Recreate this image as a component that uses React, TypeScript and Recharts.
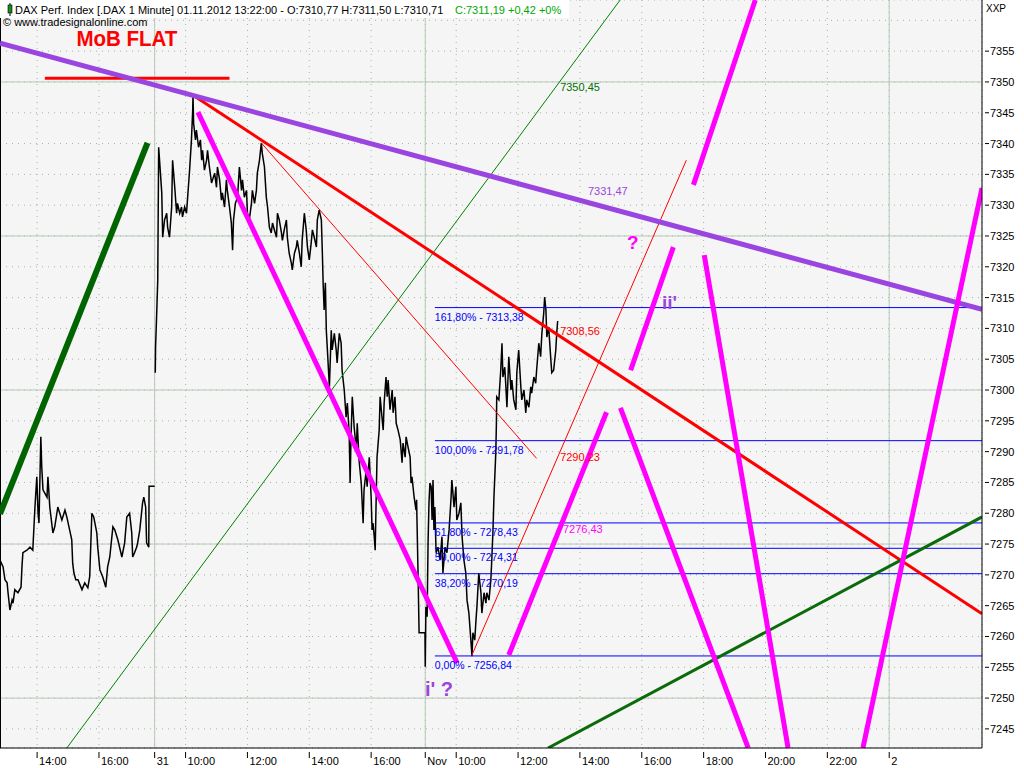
import React from 'react';
import { ComposedChart, Line, XAxis, YAxis, CartesianGrid, ReferenceLine, ReferenceDot } from 'recharts';

// time axis: hours on a compressed trading axis
const X_TICKS = [1.2, 3.2, 5.0, 6.0, 8.0, 10.0, 12.0, 13.75, 14.75, 16.75, 18.75, 20.75, 22.75, 24.75, 26.75, 28.75];
const X_LABELS = ['14:00', '16:00', '31', '10:00', '12:00', '14:00', '16:00', 'Nov', '10:00', '12:00', '14:00', '16:00', '18:00', '20:00', '22:00', '2'];
const DAY_BREAKS = [5.0, 13.75, 28.75];
const Y_TICKS = [7245, 7250, 7255, 7260, 7265, 7270, 7275, 7280, 7285, 7290, 7295, 7300, 7305, 7310, 7315, 7320, 7325, 7330, 7335, 7340, 7345, 7350, 7355];
const Y_SOLID = [7250, 7275, 7300, 7325, 7350];
const X_DOMAIN = [0, 31.75];
const Y_DOMAIN = [7241.9, 7363.3];

const PRICE_T = [
  0, 0.10, 0.16, 0.23, 0.26, 0.32, 0.39, 0.42, 0.48, 0.58, 0.68, 0.71, 0.74, 0.87, 0.97, 1.06, 1.13, 1.19, 1.23, 1.26,
  1.32, 1.35, 1.39, 1.52, 1.55, 1.61, 1.71, 1.77, 1.87, 2.0, 2.10, 2.16, 2.23, 2.32, 2.35, 2.39, 2.45, 2.52, 2.65, 2.74,
  2.84, 2.90, 2.97, 3.03, 3.13, 3.16, 3.23, 3.32, 3.42, 3.48, 3.55, 3.65, 3.71, 3.81, 3.94, 4.03, 4.10, 4.19, 4.26, 4.29,
  4.35, 4.42, 4.45, 4.52, 4.61, 4.65, 4.71, 4.74, 4.81, 4.82, 5.0, 5.01,
  5.02, 5.03, 5.06, 5.10, 5.13, 5.23, 5.26, 5.32, 5.39, 5.42, 5.48, 5.55, 5.58, 5.65, 5.71, 5.74, 5.81, 5.87, 5.90, 5.97,
  6.03, 6.06, 6.13, 6.19, 6.23, 6.24, 6.26, 6.32, 6.35, 6.42, 6.48, 6.52, 6.55, 6.61, 6.68, 6.71, 6.77, 6.84, 6.87, 6.94,
  7.00, 7.03, 7.10, 7.16, 7.19, 7.26, 7.32, 7.35, 7.42, 7.48, 7.52, 7.55, 7.61, 7.68, 7.74, 7.81, 7.84, 7.90, 7.97, 8.00,
  8.06, 8.13, 8.16, 8.23, 8.29, 8.32, 8.39, 8.45, 8.48, 8.55, 8.61, 8.65, 8.71, 8.77, 8.81, 8.87, 8.94, 8.97, 9.03, 9.10,
  9.13, 9.19, 9.26, 9.29, 9.35, 9.42, 9.45, 9.52, 9.58, 9.61, 9.68, 9.74, 9.77, 9.84, 9.90, 9.94, 10.00, 10.06, 10.10, 10.16,
  10.23, 10.26, 10.32, 10.39, 10.42, 10.45, 10.48, 10.52, 10.55, 10.58, 10.65, 10.71, 10.74, 10.81, 10.87, 10.90, 10.97, 11.03, 11.06, 11.13,
  11.19, 11.23, 11.29, 11.32, 11.35, 11.39, 11.45, 11.52, 11.55, 11.61, 11.68, 11.71, 11.74, 11.77, 11.84, 11.87, 11.94, 12.00, 12.03, 12.06,
  12.10, 12.13, 12.16, 12.19, 12.26, 12.29, 12.35, 12.39, 12.42, 12.48, 12.52, 12.55, 12.61, 12.68, 12.71, 12.77, 12.81, 12.87, 12.94, 13.00,
  13.03, 13.10, 13.13, 13.19, 13.26, 13.29, 13.32, 13.39, 13.45, 13.47, 13.48, 13.52, 13.55, 13.74, 13.75, 13.77, 13.81, 13.84, 13.87, 13.90,
  13.94, 13.97, 14.00, 14.03, 14.06, 14.10, 14.16, 14.23, 14.29, 14.32, 14.39, 14.45, 14.52, 14.58, 14.61, 14.68, 14.74, 14.77, 14.84, 14.90,
  14.94, 15.00, 15.06, 15.10, 15.16, 15.23, 15.26, 15.29, 15.35, 15.39, 15.42, 15.48, 15.55, 15.58, 15.65, 15.71, 15.74, 15.81, 15.87, 15.90,
  15.94, 15.97, 16.03, 16.05, 16.06, 16.13, 16.19, 16.23, 16.26, 16.32, 16.35, 16.39, 16.45, 16.52, 16.55, 16.61, 16.68, 16.71, 16.77, 16.84,
  16.87, 16.94, 17.00, 17.03, 17.10, 17.16, 17.19, 17.26, 17.32, 17.35, 17.42, 17.48, 17.52, 17.58, 17.61, 17.65, 17.68, 17.74, 17.81, 17.84,
  17.90, 17.97, 18.00, 18.03,
];
const PRICE_V = [
  7272.4, 7271.3, 7269.2, 7268.7, 7267.1, 7264.3, 7265.9, 7265.4, 7267.6, 7267.1, 7268.0, 7271.3, 7273.6, 7274.0, 7274.5, 7274.0, 7281.0, 7285.9, 7280.0, 7278.4,
  7292.4, 7287.5, 7283.8, 7282.6, 7285.9, 7281.0, 7276.8, 7277.8, 7281.0, 7278.9, 7280.5, 7279.4, 7277.8, 7275.7, 7271.9, 7270.3, 7269.2, 7269.2, 7267.6, 7268.7,
  7267.9, 7269.7, 7280.0, 7279.4, 7276.8, 7274.5, 7270.8, 7269.7, 7268.0, 7271.3, 7272.9, 7277.8, 7277.3, 7275.7, 7272.9, 7275.2, 7279.4, 7280.0, 7276.8, 7272.9,
  7273.6, 7274.5, 7275.2, 7277.3, 7281.7, 7282.6, 7281.0, 7275.2, 7274.5, 7284.4, 7284.4, null,
  7302.8, 7307.0, 7311.4, 7317.8, 7339.4, 7332.0, 7324.8, 7327.6, 7328.7, 7326.4, 7324.8, 7329.7, 7337.3, 7332.9, 7328.7, 7330.3, 7328.7, 7329.7, 7328.1, 7329.7,
  7328.7, 7330.8, 7335.7, 7340.6, 7345.4, 7347.9, 7343.3, 7340.6, 7342.2, 7339.4, 7340.6, 7337.3, 7338.9, 7335.7, 7337.3, 7338.9, 7336.2, 7333.6, 7334.1, 7335.2,
  7332.9, 7336.2, 7334.1, 7330.8, 7332.0, 7329.7, 7334.1, 7332.4, 7329.7, 7327.1, 7322.7, 7327.6, 7330.3, 7331.3, 7336.2, 7332.4, 7334.1, 7331.3, 7332.4, 7328.7,
  7327.6, 7330.3, 7332.4, 7330.3, 7332.4, 7335.2, 7337.3, 7340.1, 7338.4, 7336.2, 7331.3, 7329.7, 7326.4, 7325.5, 7327.1, 7326.0, 7324.8, 7328.7, 7327.6, 7325.5,
  7324.3, 7326.0, 7327.6, 7324.8, 7322.2, 7320.6, 7319.5, 7322.2, 7323.2, 7324.3, 7322.2, 7320.0, 7324.3, 7328.7, 7326.0, 7323.2, 7321.1, 7323.8, 7326.0, 7324.8,
  7323.2, 7327.6, 7329.2, 7327.6, 7322.7, 7317.0, 7313.0, 7317.4, 7309.7, 7307.0, 7300.5, 7309.7, 7306.5, 7309.2, 7306.5, 7304.4, 7309.2, 7307.6, 7303.2, 7300.0,
  7295.6, 7297.9, 7293.0, 7284.9, 7292.4, 7298.9, 7294.0, 7290.3, 7294.6, 7288.6, 7284.9, 7281.7, 7278.4, 7283.8, 7287.0, 7284.3, 7289.1, 7282.6, 7277.3, 7278.4,
  7276.2, 7274.0, 7281.7, 7289.1, 7293.5, 7298.9, 7295.6, 7293.5, 7297.9, 7302.1, 7298.9, 7301.6, 7296.8, 7300.0, 7296.3, 7298.9, 7294.6, 7293.5, 7291.9, 7288.2,
  7291.4, 7289.1, 7292.4, 7290.8, 7289.1, 7284.9, 7285.9, 7282.6, 7280.5, 7282.2, 7279.4, 7269.2, 7260.6, 7260.6, 7255.1, 7264.8, 7263.2, 7275.2, 7281.7, 7284.9,
  7284.3, 7278.9, 7285.4, 7277.3, 7281.0, 7273.6, 7274.5, 7272.4, 7276.2, 7270.3, 7274.5, 7273.6, 7277.3, 7282.2, 7285.4, 7281.0, 7284.3, 7278.9, 7280.0, 7281.7,
  7276.2, 7272.4, 7270.3, 7265.9, 7263.8, 7259.0, 7256.8, 7260.6, 7259.4, 7262.7, 7264.8, 7270.3, 7267.1, 7263.8, 7267.1, 7265.4, 7267.1, 7265.9, 7269.2, 7272.4,
  7277.3, 7282.6, 7289.8, 7294.6, 7298.9, 7298.4, 7303.2, 7307.6, 7302.1, 7303.7, 7301.1, 7297.2, 7305.4, 7300.0, 7301.6, 7298.4, 7296.8, 7302.8, 7306.5, 7300.5,
  7298.4, 7300.0, 7296.3, 7298.4, 7297.2, 7300.5, 7299.5, 7302.1, 7301.1, 7303.2, 7307.6, 7305.4, 7309.2, 7312.5, 7315.1, 7313.0, 7308.6, 7310.2, 7304.9, 7302.8,
  7303.2, 7306.5, 7309.2, 7311.2,
];

// Fibonacci retracement levels
const FIB_PCT = ['161,80%', '100,00%', '61,80%', '50,00%', '38,20%', '0,00%'];
const FIB_LEVEL = [7313.38, 7291.78, 7278.43, 7274.31, 7270.19, 7256.84];
const FIB_START = 14.06;

// drawn trend lines: [t1, p1, t2, p2, color, width]
const PURPLE = '#9A45E0';
const MAGENTA = '#FF00FF';
const SEGMENTS: [number, number, number, number, string, number][] = [
  [2.16, 7241.9, 20.05, 7363.3, '#008000', 1],
  [0, 7279.9, 4.77, 7340.1, '#006400', 6],
  [1.45, 7350.6, 7.42, 7350.6, '#FF0000', 3],
  [8.45, 7340.1, 17.35, 7288.9, '#FF0000', 1],
  [15.26, 7257.0, 22.19, 7337.3, '#FF0000', 1],
  [6.23, 7347.9, 31.75, 7263.7, '#FF0000', 3],
  [17.72, 7241.9, 31.75, 7279.4, '#0B6B0B', 3],
  [0, 7356.3, 31.75, 7313.1, PURPLE, 5],
  [6.40, 7345.1, 14.78, 7255.7, MAGENTA, 5],
  [16.45, 7257.0, 19.61, 7296.4, MAGENTA, 5],
  [20.06, 7297.1, 24.19, 7241.9, MAGENTA, 5],
  [20.39, 7303.2, 21.77, 7323.2, MAGENTA, 5],
  [22.42, 7333.3, 24.42, 7363.3, MAGENTA, 5],
  [22.77, 7321.9, 25.48, 7241.9, MAGENTA, 5],
  [27.90, 7241.9, 31.75, 7332.8, MAGENTA, 5],
];

// text annotations: [t, p, text, color, size, bold, length]
const LABELS: [number, number, string, string, number, boolean, number][] = [
  [2.47, 7355.9, 'MoB FLAT', '#FF0000', 22, true, 101],
  [18.11, 7348.5, '7350,45', '#007000', 11, false, 0],
  [19.01, 7331.6, '7331,47', PURPLE, 11, false, 0],
  [18.11, 7308.9, '7308,56', '#FF0000', 11, false, 0],
  [18.11, 7288.5, '7290,23', '#FF0000', 11, false, 0],
  [18.20, 7276.8, '7276,43', MAGENTA, 11, false, 0],
  [20.27, 7322.9, '?', MAGENTA, 19, true, 0],
  [21.40, 7313.1, "ii'", PURPLE, 19, true, 0],
  [13.74, 7250.3, "i' ?", PURPLE, 20, true, 0],
];

const FONT = '"Liberation Sans", Arial, sans-serif';

function YTick(props: any) {
  const { x, y, payload } = props;
  return (
    <g>
      <line x1={x + 3} x2={x + 7} y1={y} y2={y} stroke="#000" />
      <text x={x + 8} y={y + 4} fontSize={11} fontFamily={FONT} fill="#000">{payload.value}</text>
    </g>
  );
}

function XTick(props: any) {
  const { x, y, payload } = props;
  const i = X_TICKS.indexOf(payload.value);
  return (
    <g>
      <line x1={x} x2={x} y1={y + 4} y2={y + 10} stroke="#000" />
      <text x={x + 2} y={y + 17} fontSize={11} fontFamily={FONT} fill="#000">{X_LABELS[i]}</text>
    </g>
  );
}

export default function App() {
  const priceData = PRICE_T.map((t, i) => ({ t, p: PRICE_V[i] }));
  const fmt = (v: number) => v.toFixed(2).replace('.', ',');
  return (
    <div style={{ position: 'relative', width: 1024, height: 768, background: '#fff', fontFamily: FONT }}>
      <style>{`body{margin:0}`}</style>
      <ComposedChart width={1024} height={768} margin={{ top: 0, right: 0, bottom: 0, left: 0 }}>
        <CartesianGrid stroke="#9DB89D" strokeDasharray="1 5" fill="#F5F5F5" />
        <XAxis
          dataKey="t"
          type="number"
          domain={X_DOMAIN}
          ticks={X_TICKS}
          interval={0}
          allowDataOverflow
          height={20}
          axisLine={{ stroke: '#000' }}
          tickLine={false}
          tickSize={0}
          tickMargin={0}
          tick={<XTick />}
        />
        <YAxis
          orientation="right"
          type="number"
          domain={Y_DOMAIN}
          ticks={Y_TICKS}
          interval={0}
          allowDataOverflow
          width={42}
          axisLine={{ stroke: '#000' }}
          tickLine={false}
          tickSize={0}
          tickMargin={0}
          tick={<YTick />}
        />
        <ReferenceLine y={7360} stroke="#9DB89D" strokeDasharray="1 5" />
        {Y_SOLID.map((v) => (
          <ReferenceLine key={'ys' + v} y={v} stroke="#B7C9B7" strokeWidth={1} />
        ))}
        {DAY_BREAKS.map((v) => (
          <ReferenceLine key={'xs' + v} x={v} stroke="#B7C9B7" strokeWidth={1} />
        ))}
        <ReferenceLine x={0} stroke="#000" strokeWidth={2} />
        <Line
          data={priceData}
          dataKey="p"
          type="linear"
          stroke="#000"
          strokeWidth={1.5}
          dot={false}
          activeDot={false}
          isAnimationActive={false}
        />
        {FIB_LEVEL.map((v, i) => (
          <ReferenceLine
            key={'fib' + i}
            segment={[{ x: FIB_START, y: v }, { x: X_DOMAIN[1], y: v }]}
            stroke="#0000FF"
            strokeWidth={1}
            ifOverflow="visible"
          />
        ))}
        {FIB_LEVEL.map((v, i) => (
          <ReferenceDot
            key={'fibl' + i}
            x={FIB_START}
            y={v}
            r={0}
            ifOverflow="visible"
            shape={(p: any) => (
              <text x={p.cx} y={p.cy + 13} fontSize={10.5} fontFamily={FONT} fill="#0000FF">
                {`${FIB_PCT[i]} - ${fmt(v)}`}
              </text>
            )}
          />
        ))}
        {SEGMENTS.map((s, i) => (
          <ReferenceLine
            key={'seg' + i}
            segment={[{ x: s[0], y: s[1] }, { x: s[2], y: s[3] }]}
            stroke={s[4]}
            strokeWidth={s[5]}
            ifOverflow="hidden"
          />
        ))}
        {LABELS.map((l, i) => (
          <ReferenceDot
            key={'lab' + i}
            x={l[0]}
            y={l[1]}
            r={0}
            ifOverflow="visible"
            shape={(p: any) => (
              <text
                x={p.cx}
                y={p.cy}
                fontSize={l[4]}
                fontWeight={l[5] ? 'bold' : 'normal'}
                fontFamily={FONT}
                fill={l[3]}
                {...(l[6] ? { textLength: l[6], lengthAdjust: 'spacingAndGlyphs' } : {})}
              >
                {l[2]}
              </text>
            )}
          />
        ))}
      </ComposedChart>
      <svg width={1024} height={40} style={{ position: 'absolute', left: 0, top: 0, pointerEvents: 'none' }}>
        <rect x={0} y={0} width={569} height={18} fill="#FFFFFF" />
        <line x1={10} x2={10} y1={3} y2={16} stroke="#000" />
        <rect x={8} y={5} width={4} height={8} fill="#1A8A1A" stroke="#000" strokeWidth={0.6} />
        <text x={15} y={14} fontSize={11} fontFamily={FONT} fill="#000">
          DAX Perf. Index [.DAX 1 Minute] 01.11.2012 13:22:00 - O:7310,77 H:7311,50 L:7310,71
        </text>
        <text x={455} y={14} fontSize={11} fontFamily={FONT} fill="#00A800">
          C:7311,19 +0,42 +0%
        </text>
        <text x={3} y={26} fontSize={11} fontFamily={FONT} fill="#000">
          © www.tradesignalonline.com
        </text>
        <text x={986} y={12} fontSize={10} fontFamily={FONT} fill="#000">XXP</text>
      </svg>
    </div>
  );
}
